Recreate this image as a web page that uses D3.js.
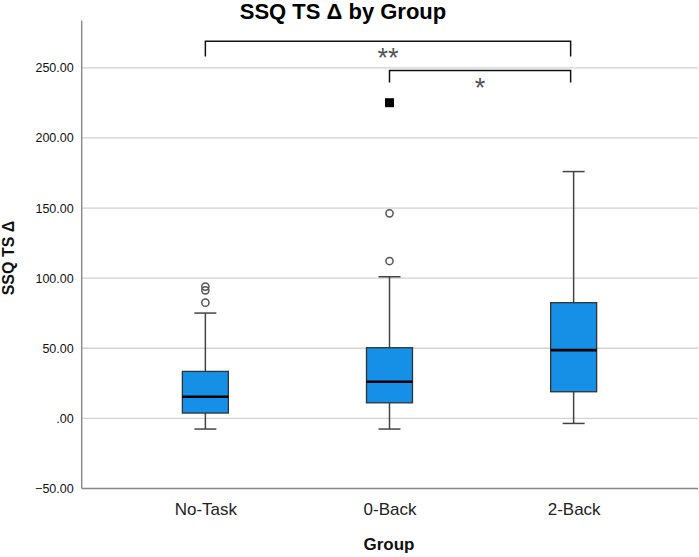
<!DOCTYPE html>
<html>
<head>
<meta charset="utf-8">
<script src="https://cdn.jsdelivr.net/npm/d3@7"></script>
<style>
  body { margin: 0; background: #fff; }
  text { font-family: "Liberation Sans", Arial, sans-serif; }
</style>
</head>
<body>
<div class="canva"></div>
<script>
// groups and box stats
const groups = ["No-Task", "0-Back", "2-Back"];
const whiskerLow = [-7.6, -7.6, -3.6];
const q1 = [3.8, 11.1, 19.0];
const median = [15.4, 26.1, 48.7];
const q3 = [33.5, 50.4, 82.5];
const whiskerHigh = [75.1, 101.0, 176.0];
// outliers (circle) and extremes (square)
const outliers = [
    {group: "No-Task", value: 94.0},
    {group: "No-Task", value: 91.3},
    {group: "No-Task", value: 82.5},
    {group: "0-Back", value: 112.2},
    {group: "0-Back", value: 146.2}
];
const extremes = [{group: "0-Back", value: 225.1}];
const yTicks = [-50, 0, 50, 100, 150, 200, 250];
// significance brackets
const brackets = [
    {from: "No-Task", to: "2-Back", top: 269, foot: 258, label: "**"},
    {from: "0-Back", to: "2-Back", top: 248, foot: 239.5, label: "*"}
];

const width = 699, height = 557;
const svg = d3.select(".canva").append("svg")
    .attr("width", width)
    .attr("height", height);

const x = d3.scalePoint()
    .domain(groups)
    .range([82, 697])
    .padding(0.67);

const y = d3.scaleLinear()
    .domain([-50, 250])
    .range([488.5, 67.8]);

const boxW = 46, capW = 22;

// gridlines
svg.append("g")
    .selectAll("line")
    .data(yTicks.filter(d => d > -50))
    .enter().append("line")
    .attr("x1", 82).attr("x2", 698)
    .attr("y1", d => y(d)).attr("y2", d => y(d))
    .attr("stroke", "#d2d2d2")
    .attr("stroke-width", 1.3);

// y axis
const yAxis = d3.axisLeft(y)
    .tickValues(yTicks)
    .tickSize(0)
    .tickPadding(8)
    .tickFormat(d => d === 0 ? ".00" : d3.format(".2f")(d));

const yg = svg.append("g")
    .attr("transform", "translate(81.7,0)")
    .call(yAxis);
yg.select(".domain").remove();
yg.selectAll("text")
    .attr("font-size", "12.5px")
    .attr("fill", "#111")
    .style("font-family", "'Liberation Sans', Arial, sans-serif");

// axis lines
svg.append("line")
    .attr("x1", 81.7).attr("x2", 81.7)
    .attr("y1", 20.5).attr("y2", y(-50))
    .attr("stroke", "#888").attr("stroke-width", 1.4);
svg.append("line")
    .attr("x1", 81.7).attr("x2", 698)
    .attr("y1", y(-50)).attr("y2", y(-50))
    .attr("stroke", "#888").attr("stroke-width", 1.4);

// x axis labels
const xAxis = d3.axisBottom(x).tickSize(0).tickPadding(0);
const xg = svg.append("g")
    .attr("transform", `translate(0, ${y(-50)})`)
    .call(xAxis);
xg.select(".domain").remove();
xg.selectAll("text")
    .attr("dy", null)
    .attr("y", 26)
    .attr("font-size", "17px")
    .attr("fill", "#222")
    .style("font-family", "'Liberation Sans', Arial, sans-serif");

const boxes = groups.map((g, i) => ({
    group: g, lo: whiskerLow[i], q1: q1[i], med: median[i], q3: q3[i], hi: whiskerHigh[i]
}));

const bx = svg.append("g").selectAll("g")
    .data(boxes)
    .enter().append("g");

// whisker stems
bx.append("line")
    .attr("x1", d => x(d.group)).attr("x2", d => x(d.group))
    .attr("y1", d => y(d.lo)).attr("y2", d => y(d.q1))
    .attr("stroke", "#444").attr("stroke-width", 1.5);
bx.append("line")
    .attr("x1", d => x(d.group)).attr("x2", d => x(d.group))
    .attr("y1", d => y(d.q3)).attr("y2", d => y(d.hi))
    .attr("stroke", "#444").attr("stroke-width", 1.5);

// caps
["lo", "hi"].forEach(k => {
    bx.append("line")
        .attr("x1", d => x(d.group) - capW / 2).attr("x2", d => x(d.group) + capW / 2)
        .attr("y1", d => y(d[k])).attr("y2", d => y(d[k]))
        .attr("stroke", "#444").attr("stroke-width", 1.5);
});

// boxes
bx.append("rect")
    .attr("x", d => x(d.group) - boxW / 2)
    .attr("width", boxW)
    .attr("y", d => y(d.q3))
    .attr("height", d => y(d.q1) - y(d.q3))
    .attr("fill", "#1590e6")
    .attr("stroke", "#333")
    .attr("stroke-width", 1.3);

// median
bx.append("line")
    .attr("x1", d => x(d.group) - boxW / 2).attr("x2", d => x(d.group) + boxW / 2)
    .attr("y1", d => y(d.med)).attr("y2", d => y(d.med))
    .attr("stroke", "#000").attr("stroke-width", 2.6);

// outliers
svg.append("g").selectAll("circle")
    .data(outliers)
    .enter().append("circle")
    .attr("cx", d => x(d.group))
    .attr("cy", d => y(d.value))
    .attr("r", 3.6)
    .attr("fill", "none")
    .attr("stroke", "#555")
    .attr("stroke-width", 1.5);

svg.append("g").selectAll("rect")
    .data(extremes)
    .enter().append("rect")
    .attr("x", d => x(d.group) - 4.5)
    .attr("y", d => y(d.value) - 4.5)
    .attr("width", 9).attr("height", 9)
    .attr("fill", "#000");

// significance brackets
const br = svg.append("g").selectAll("g")
    .data(brackets)
    .enter().append("g");

br.append("path")
    .attr("d", d => {
        const x0 = x(d.from), x1 = x(d.to) - 3;
        return `M${x0},${y(d.foot)}V${y(d.top)}H${x1}V${y(d.foot)}`;
    })
    .attr("fill", "none")
    .attr("stroke", "#111")
    .attr("stroke-width", 1.5);

br.append("text")
    .attr("x", d => (x(d.from) + x(d.to) - 3) / 2)
    .attr("y", d => y(d.top) + 26)
    .attr("text-anchor", "middle")
    .attr("font-size", "27px")
    .attr("fill", "#555")
    .text(d => d.label);

// title
svg.append("text")
    .attr("x", 343)
    .attr("y", 18.5)
    .attr("text-anchor", "middle")
    .attr("font-size", "22px")
    .attr("font-weight", "bold")
    .attr("fill", "#000")
    .text("SSQ TS Δ by Group");

// axis titles
svg.append("text")
    .attr("x", 389)
    .attr("y", 550)
    .attr("text-anchor", "middle")
    .attr("font-size", "17px")
    .attr("font-weight", "bold")
    .attr("fill", "#111")
    .text("Group");

svg.append("text")
    .attr("transform", "translate(14,258) rotate(-90)")
    .attr("text-anchor", "middle")
    .attr("font-size", "16px")
    .attr("font-weight", "bold")
    .attr("fill", "#111")
    .text("SSQ TS Δ");
</script>
</body>
</html>
